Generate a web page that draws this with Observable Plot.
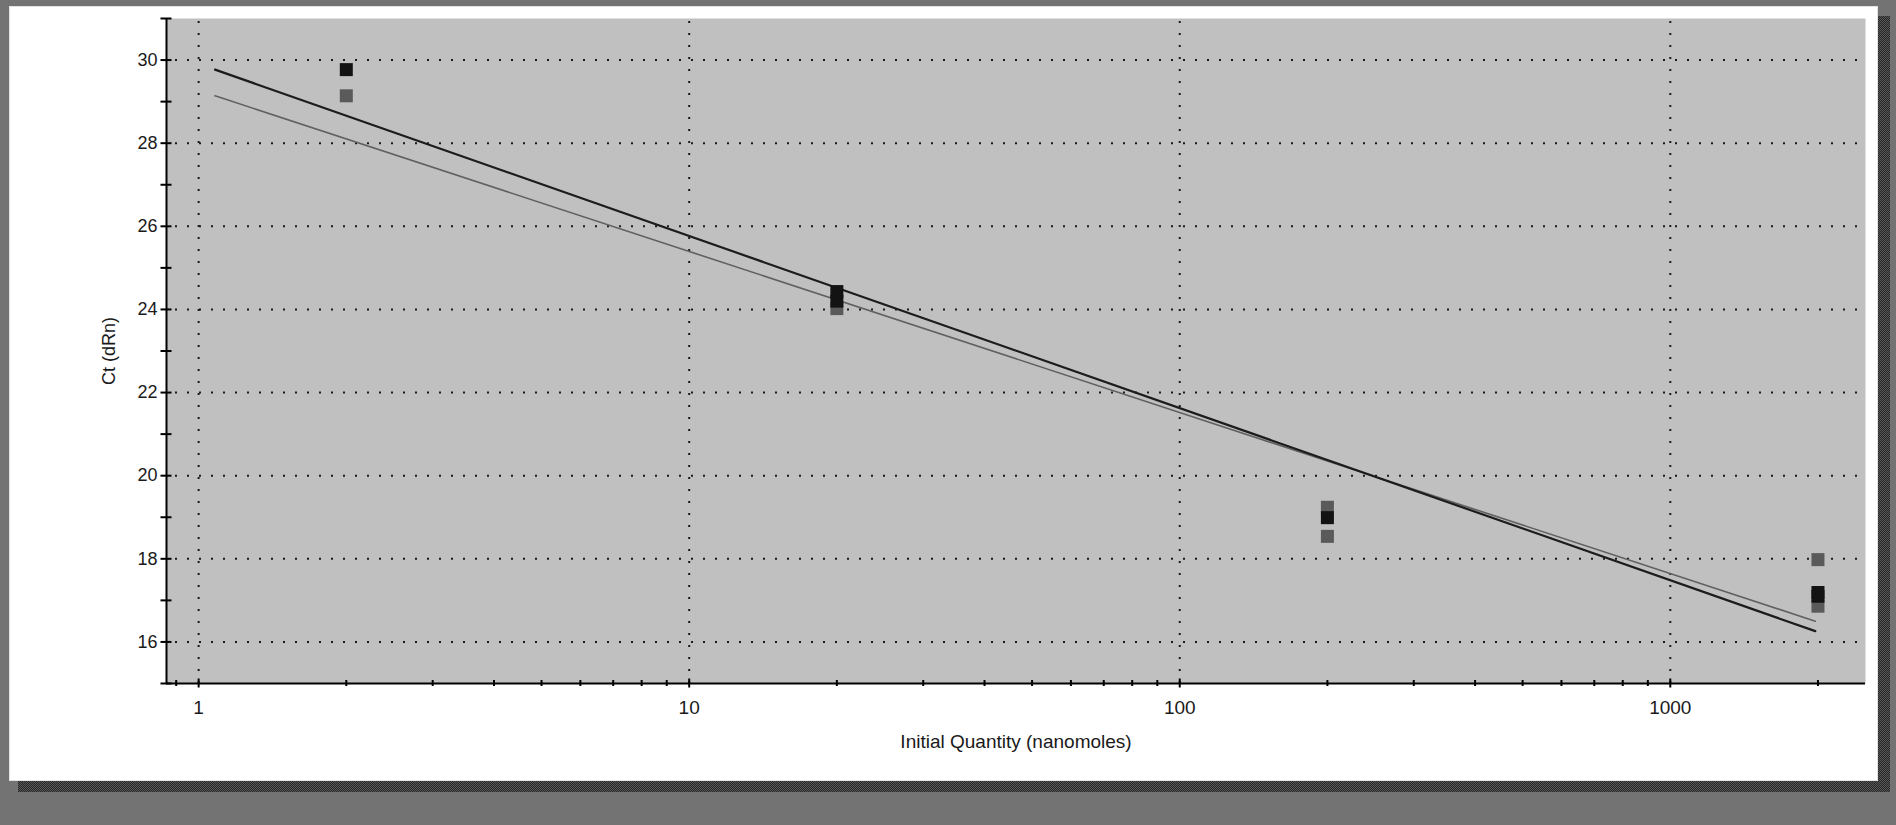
<!DOCTYPE html>
<html>
<head>
<meta charset="utf-8">
<script src="https://cdn.jsdelivr.net/npm/d3@7"></script>
<script src="https://cdn.jsdelivr.net/npm/@observablehq/plot@0.6"></script>
<style>
  html, body { margin: 0; padding: 0; }
  body { width: 1896px; height: 825px; overflow: hidden; position: relative; background: #737373; }
  #shadow { position: absolute; left: 18px; top: 16px; width: 1872px; height: 776px;
    background: repeating-conic-gradient(#262626 0 25%, #585858 0 50%) 0 0 / 2px 2px; }
  #panel { position: absolute; left: 9px; top: 6px; width: 1869px; height: 775px; background: #fff;
    box-sizing: border-box; border: 1px solid #e2e2e2; }
  #chart { position: absolute; left: 0; top: 0; }
</style>
</head>
<body>
<div id="shadow"></div>
<div id="panel"></div>
<div id="chart"></div>
<script>
// ---- data ----
const quantities = [2, 20, 200, 2000];
// series 1 (black squares): replicate Ct values
const blackX = [2, 20, 20, 200, 2000, 2000];
const blackCt = [29.77, 24.43, 24.2, 18.99, 17.19, 17.1];
// series 2 (grey squares)
const grayX = [2, 20, 200, 200, 2000, 2000];
const grayCt = [29.14, 24.02, 19.24, 18.54, 17.98, 16.86];
// standard curve fit lines (endpoints)
const fitX = [1.08, 1975];
const blackFitCt = [29.77, 16.26];
const grayFitCt = [29.14, 16.5];
// axes
const xDomain = [0.86, 2500];
const yDomain = [15, 31];
const xMajorTicks = [1, 10, 100, 1000];
const xMinorTicks = [0.9, 2, 3, 4, 5, 6, 7, 8, 9, 20, 30, 40, 50, 60, 70, 80, 90, 200, 300, 400, 500, 600, 700, 800, 900, 2000];
const yMajorTicks = [16, 18, 20, 22, 24, 26, 28, 30];
const yAllTicks = [15, 16, 17, 18, 19, 20, 21, 22, 23, 24, 25, 26, 27, 28, 29, 30, 31];

const toRows = (xs, ys) => xs.map((x, i) => ({x, y: ys[i]}));
const blackPts = toRows(blackX, blackCt);
const grayPts = toRows(grayX, grayCt);
const blackFit = toRows(fitX, blackFitCt);
const grayFit = toRows(fitX, grayFitCt);

const side = 13;
const r = side / Math.sqrt(Math.PI);

const chart = Plot.plot({
  width: 1896,
  height: 825,
  marginLeft: 166,
  marginRight: 31,
  marginTop: 18,
  marginBottom: 142,
  style: {background: "transparent", fontFamily: "'Liberation Sans', Arial, sans-serif", fontSize: "18px", color: "#1a1a1a", overflow: "visible"},
  x: {type: "log", domain: xDomain},
  y: {domain: yDomain},
  marks: [
    Plot.frame({fill: "#c0c0c0", stroke: "none"}),
    Plot.gridY(yMajorTicks, {stroke: "#1a1a1a", strokeOpacity: 1, strokeWidth: 2, strokeDasharray: "2,10", strokeDashoffset: -9}),
    Plot.gridX(xMajorTicks, {stroke: "#1a1a1a", strokeOpacity: 1, strokeWidth: 2, strokeDasharray: "2,10", strokeDashoffset: -3}),
    Plot.line(grayFit, {x: "x", y: "y", stroke: "#606060", strokeWidth: 1.6}),
    Plot.line(blackFit, {x: "x", y: "y", stroke: "#1c1c1c", strokeWidth: 2.2}),
    Plot.dot(grayPts, {x: "x", y: "y", symbol: "square", r, fill: "#5a5a5a", stroke: "none"}),
    Plot.dot(blackPts, {x: "x", y: "y", symbol: "square", r, fill: "#131313", stroke: "none"}),
    Plot.ruleX([xDomain[0]], {stroke: "#000", strokeWidth: 2}),
    Plot.ruleY([yDomain[0]], {stroke: "#000", strokeWidth: 2}),
    Plot.axisY(yAllTicks, {tickSize: 11, dx: 5.5, fill: "none", label: null, stroke: "#000", strokeWidth: 2}),
    Plot.axisY(yMajorTicks, {tickSize: 0, tickPadding: 9, label: "Ct (dRn)", labelAnchor: "center", labelArrow: "none", labelOffset: 64}),
    Plot.axisX(xMajorTicks, {tickSize: 9, dy: -4.5, fill: "none", label: null, stroke: "#000", strokeWidth: 2}),
    Plot.axisX(xMinorTicks, {tickSize: 6, dy: -3, fill: "none", label: null, stroke: "#000", strokeWidth: 2}),
    Plot.axisX(xMajorTicks, {tickSize: 0, tickPadding: 17, tickFormat: d => String(d), label: "Initial Quantity (nanomoles)", labelAnchor: "center", labelArrow: "none", labelOffset: 64, fontSize: 19})
  ]
});
document.getElementById("chart").appendChild(chart);
</script>
</body>
</html>
